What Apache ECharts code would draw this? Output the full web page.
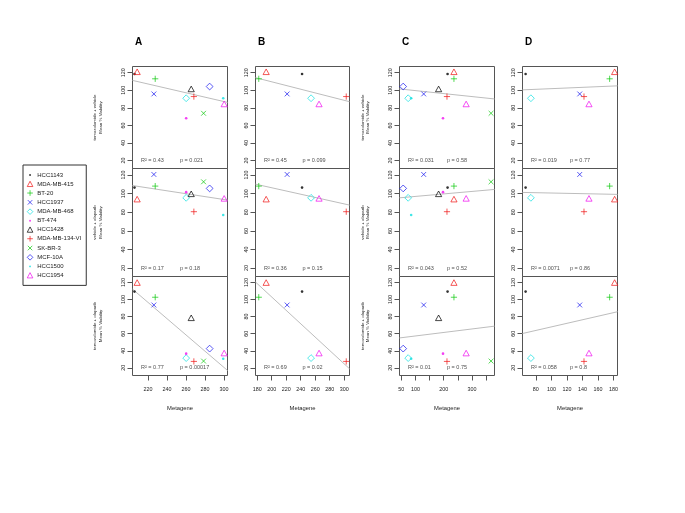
<!DOCTYPE html>
<html><head><meta charset="utf-8">
<script src="https://cdn.jsdelivr.net/npm/echarts@6/dist/echarts.min.js"></script>
<style>html,body{margin:0;padding:0;background:#fff}#c{width:685px;height:513px}</style>
</head><body><div id="c"></div>
<script>
// ---------------- data ----------------
const cellLines = ['HCC1143','MDA-MB-415','BT-20','HCC1937','MDA-MB-468','BT-474','HCC1428','MDA-MB-134-VI','SK-BR-3','MCF-10A','HCC1500','HCC1954'];
const treatments = ['temozolomide + vehicle','vehicle + olaparib','temozolomide + olaparib'];
const panelLetters = ['A','B','C','D'];

// Mean % viability per cell line, one array per treatment (row)
const viabTemVeh = [118.5,121,113,95.8,90.9,68.1,101.5,92.8,73.8,104.2,90.9,84.4];
const viabVehOla = [106.5,94.1,108.1,120.6,95.5,101.6,99.8,80.6,112.7,105.6,77.0,94.9];
const viabTemOla = [109.3,119.9,102.7,93.6,31.4,36.6,78.6,27.5,27.9,42.5,30.7,37.3];

// Metagene score per cell line, one array per column (null = not measured)
const metageneA = [205.9,208.7,227.7,226.3,260.3,260.3,265.6,268.4,278.6,285.0,299.3,300.3];
const metageneB = [241.9,192.4,182.2,221.3,254.3,null,null,302.8,null,null,null,265.3];
const metageneC = [213.5,236,236,129.3,74.6,197.4,181.9,211.4,366.8,57.0,85.1,279];
const metageneD = [66.8,181.3,174.9,136.4,73.6,null,null,141.9,null,null,null,148.3];

// axis ranges and ticks
const xRangeA = [203.8,303.8], xRangeB = [177.7,307.3], xRangeC = [44,379], xRangeD = [62.8,185];
const xTicksA = [220,240,260,280,300];
const xTicksB = [180,200,220,240,260,280,300];
const xTicksC = [50,100,150,200,250,300,350];
const xLabelsC = [50,100,200,300];
const xTicksD = [80,100,120,140,160,180];
const yRange = [11,127];
const yTicks = [20,40,60,80,100,120];

// regression lines: viability at left / right edge of each panel (cols A..D)
const fitTemVeh = [[111.2,86.2],[114.3,87.0],[101.5,90.1],[100.4,105.0]];
const fitVehOla = [[108.7,93.1],[110.2,87.7],[95.5,104.5],[101.3,99.2]];
const fitTemOla = [[112.2,16.9],[120.5,18.9],[55.0,68.8],[60.2,85.7]];

// statistics text
const r2TemVeh = ['0.43','0.45','0.031','0.019'], pTemVeh = ['0.021','0.099','0.58','0.77'];
const r2VehOla = ['0.17','0.36','0.043','0.0071'], pVehOla = ['0.18','0.15','0.52','0.86'];
const r2TemOla = ['0.77','0.69','0.01','0.058'], pTemOla = ['0.00017','0.02','0.75','0.8'];

// ---------------- layout / style ----------------
const FONT = 'Liberation Sans, Arial, Helvetica, sans-serif';
const colorCycle = ['#000000','#F01818','#10C810','#1818F0','#10E0E0','#F010F0'];
const symbolCycle = ['dot','triangle','plus','cross','diamond'];
const colLeft = [132.5,255.5,399.5,522.5];
const colWidth = [95,94,95,95];
const rowTop = [66.5,168.5,276.5];
const rowHeight = [102,108,99];

const viab = [viabTemVeh, viabVehOla, viabTemOla];
const metagenes = [metageneA, metageneB, metageneC, metageneD];
const xRanges = [xRangeA, xRangeB, xRangeC, xRangeD];
const xTicks = [xTicksA, xTicksB, xTicksC, xTicksD];
const xLabels = [xTicksA, xTicksB, xLabelsC, xTicksD];
const fits = [fitTemVeh, fitVehOla, fitTemOla];
const r2s = [r2TemVeh, r2VehOla, r2TemOla];
const ps = [pTemVeh, pVehOla, pTemOla];

function symbolStyle(i){
  const kind = symbolCycle[i % 5], color = colorCycle[i % 6];
  const hollow = {color:'transparent', borderColor:color, borderWidth:0.9};
  switch(kind){
    case 'dot': return {symbol:'circle', symbolSize:2.6, itemStyle:{color:color, borderColor:color, borderWidth:0}};
    case 'triangle': return {symbol:'triangle', symbolSize:[6.2,5.6], itemStyle:hollow};
    case 'plus': return {symbol:'path://M0,5L10,5M5,0L5,10', symbolSize:6.2, itemStyle:hollow};
    case 'cross': return {symbol:'path://M0,0L10,10M10,0L0,10', symbolSize:4.8, itemStyle:hollow};
    default: return {symbol:'diamond', symbolSize:[6.8,6.8], itemStyle:hollow};
  }
}
function legendIcon(i){
  const kind = symbolCycle[i % 5];
  switch(kind){
    case 'dot': return {icon:'path://M0,0M10,10M5,3.3A1.7,1.7,0,1,1,4.99,3.3Z', itemStyle:{borderWidth:0}};
    case 'triangle': return {icon:'path://M5,0.5L9.6,9.2L0.4,9.2Z'};
    case 'plus': return {icon:'path://M0,5L10,5M5,0L5,10'};
    case 'cross': return {icon:'path://M1,1L9,9M9,1L1,9M0,0M10,10'};
    default: return {icon:'path://M5,0L10,5L5,10L0,5Z'};
  }
}

const grids=[], xAxes=[], yAxes=[], series=[];
for (let r=0;r<3;r++){
  for (let c=0;c<4;c++){
    const g = r*4+c;
    const bottom = (r===2);
    grids.push({left:colLeft[c], top:rowTop[r], width:colWidth[c], height:rowHeight[r],
      show:true, borderColor:'#555', borderWidth:1, backgroundColor:'transparent',
      containLabel:false, outerBoundsMode:'none'});
    xAxes.push({type:'value', gridIndex:g, min:xRanges[c][0], max:xRanges[c][1],
      axisLine:{show:false}, splitLine:{show:false},
      axisTick:{show:bottom, customValues:xTicks[c], length:5, lineStyle:{color:'#555', width:1}},
      axisLabel:{show:bottom, customValues:xLabels[c], fontSize:5.4, margin:11.5, color:'#222', fontFamily:FONT},
      name: bottom ? 'Metagene' : '', nameLocation:'middle', nameGap:29.5,
      nameTextStyle:{fontSize:5.8, color:'#222', fontFamily:FONT}});
    yAxes.push({type:'value', gridIndex:g, min:yRange[0], max:yRange[1],
      axisLine:{show:false}, splitLine:{show:false},
      axisTick:{show:true, customValues:yTicks, length:5, lineStyle:{color:'#555', width:1}},
      axisLabel:{show:true, customValues:yTicks, rotate:90, fontSize:5.4, margin:6, color:'#222', fontFamily:FONT}});

    // regression line across the whole panel
    series.push({type:'line', xAxisIndex:g, yAxisIndex:g, silent:true, clip:true, symbol:'none',
      lineStyle:{color:'#bdbdbd', width:1}, z:1,
      data:[[xRanges[c][0], fits[r][c][0]],[xRanges[c][1], fits[r][c][1]]]});

    // points
    const mg = metagenes[c];
    for (let i=0;i<cellLines.length;i++){
      if (mg[i] == null) continue;
      const st = symbolStyle(i);
      series.push(Object.assign({type:'scatter', name:cellLines[i], xAxisIndex:g, yAxisIndex:g, z:3,
        data:[[mg[i], viab[r][i]]], emphasis:{disabled:true}}, st));
    }

    // R^2 and p text at y = 20
    const span = xRanges[c][1]-xRanges[c][0];
    series.push({type:'scatter', xAxisIndex:g, yAxisIndex:g, silent:true, symbolSize:1,
      itemStyle:{color:'transparent'}, z:4,
      label:{show:true, position:'right', distance:0, fontSize:5.5, color:'#222', fontFamily:FONT,
        formatter:p=>p.data.text},
      data:[{value:[xRanges[c][0]+span*8/95, 20], text:'R² = '+r2s[r][c]},
            {value:[xRanges[c][0]+span*47/95, 20], text:'p = '+ps[r][c]}]});
  }
}

// graphic texts: panel letters and y-axis titles
const graphics = [];
for (let c=0;c<4;c++){
  graphics.push({type:'text', x:colLeft[c]+6, y:42, style:{text:panelLetters[c], font:'bold 10px '+FONT, fill:'#000', textAlign:'center', textVerticalAlign:'middle'}});
}
const titleX = [[94.8,100.4],[362.5,367.8]];
for (let r=0;r<3;r++){
  const cy = rowTop[r]+rowHeight[r]/2;
  for (const tx of titleX){
    graphics.push({type:'text', x:tx[0], y:cy, rotation:Math.PI/2, style:{text:treatments[r], font:'4.4px '+FONT, fill:'#222', textAlign:'center', textVerticalAlign:'middle'}});
    graphics.push({type:'text', x:tx[1], y:cy, rotation:Math.PI/2, style:{text:'Mean % Viability', font:'4.4px '+FONT, fill:'#222', textAlign:'center', textVerticalAlign:'middle'}});
  }
}

const legendData = cellLines.map((n,i)=>Object.assign({name:n}, legendIcon(i)));

const option = {
  animation:false,
  backgroundColor:'#fff',
  textStyle:{fontFamily:FONT},
  grid:grids, xAxis:xAxes, yAxis:yAxes, series:series,
  legend:{data:legendData, orient:'vertical', left:23, top:165, padding:[7,5,7,3.8],
    itemWidth:5.6, itemHeight:5.6, itemGap:2.8, selectedMode:false,
    borderColor:'#333', borderWidth:1, backgroundColor:'#fff',
    itemStyle:{borderWidth:0.9},
    textStyle:{fontSize:6, lineHeight:6, color:'#222', fontFamily:FONT, padding:[0,0,0,-0.6]}},
  graphic:graphics,
  tooltip:{show:false}
};
const chart = echarts.init(document.getElementById('c'), null, {renderer:'canvas', width:685, height:513});
chart.setOption(option);
</script></body></html>
